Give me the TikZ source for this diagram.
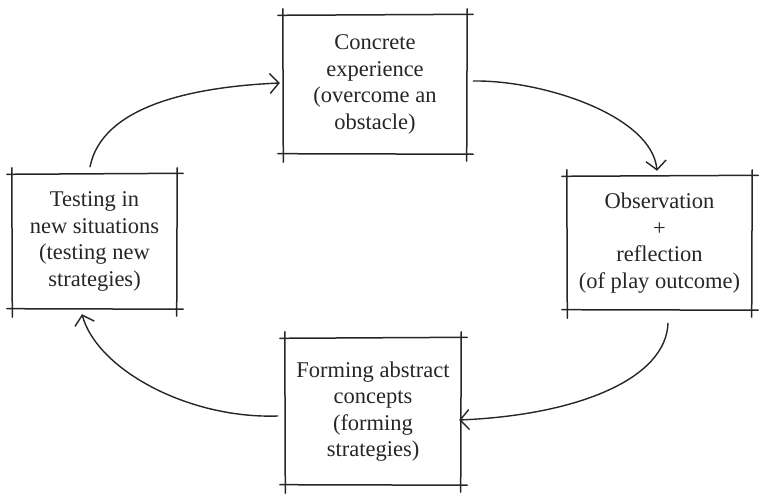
\documentclass[tikz,border=0pt]{standalone}
\usepackage{fontspec}
\setmainfont{Liberation Serif}
\usetikzlibrary{arrows.meta}
\definecolor{ink}{HTML}{262626}
\tikzset{
  box/.style={rectangle, inner sep=0pt, align=center, text=ink,
    font=\fontsize{22.5}{26.5}\selectfont},
  sk/.style={draw=ink, line width=1.5pt, line cap=round},
  conn/.style={draw=ink, line width=1.4pt, line cap=round,
    -{Straight Barb[length=9pt,width=20pt,line width=1.4pt]}},
}
\newcommand{\sketchbox}[1]{%
  \draw[sk] ([xshift=-5pt,yshift=-0.5pt]#1.north west) -- ([xshift=6pt,yshift=0.5pt]#1.north east);
  \draw[sk] ([xshift=-5pt,yshift=0.5pt]#1.south west) -- ([xshift=6pt]#1.south east);
  \draw[sk] ([yshift=6pt]#1.north west) -- ([xshift=0.5pt,yshift=-8pt]#1.south west);
  \draw[sk] ([yshift=6pt]#1.north east) -- ([xshift=-0.5pt,yshift=-7pt]#1.south east);
}
\begin{document}
\begin{tikzpicture}[x=1pt,y=-1pt]
\useasboundingbox (0,0) rectangle (761,497);
\node[box, minimum width=184pt, minimum height=139pt] (top) at (375,84.5)
  {Concrete\\experience\\(overcome an\\obstacle)};
\node[box, minimum width=185pt, minimum height=134pt] (right) at (659.5,243)
  {Observation\\+\\reflection\\(of play outcome)};
\node[box, minimum width=165pt, minimum height=135pt] (left) at (94.5,241.5)
  {Testing in\\new situations\\(testing new\\strategies)};
\node[box, minimum width=176pt, minimum height=147pt] (bottom) at (373,411.5)
  {Forming abstract\\concepts\\(forming\\strategies)};
\sketchbox{top}
\sketchbox{right}
\sketchbox{left}
\sketchbox{bottom}
\draw[conn] ([xshift=-4.5pt,yshift=7pt]left.north)
  .. controls +(12,-60) and +(-90,4) .. ([xshift=-3pt,yshift=1.5pt]top.west);
\draw[conn] ([xshift=6pt,yshift=3.5pt]top.east)
  .. controls +(70,-1) and +(-5,-55) .. ([xshift=-2.5pt,yshift=5pt]right.north);
\draw[conn] ([xshift=8.5pt,yshift=-13pt]right.south)
  .. controls +(-2,55) and +(120,-5) .. ([xshift=-2pt,yshift=-8.5pt]bottom.east);
\draw[conn] ([xshift=-7pt,yshift=-4.5pt]bottom.west)
  .. controls +(-90,3) and +(15,55) .. ([xshift=-12.5pt,yshift=-5pt]left.south);
\end{tikzpicture}
\end{document}
